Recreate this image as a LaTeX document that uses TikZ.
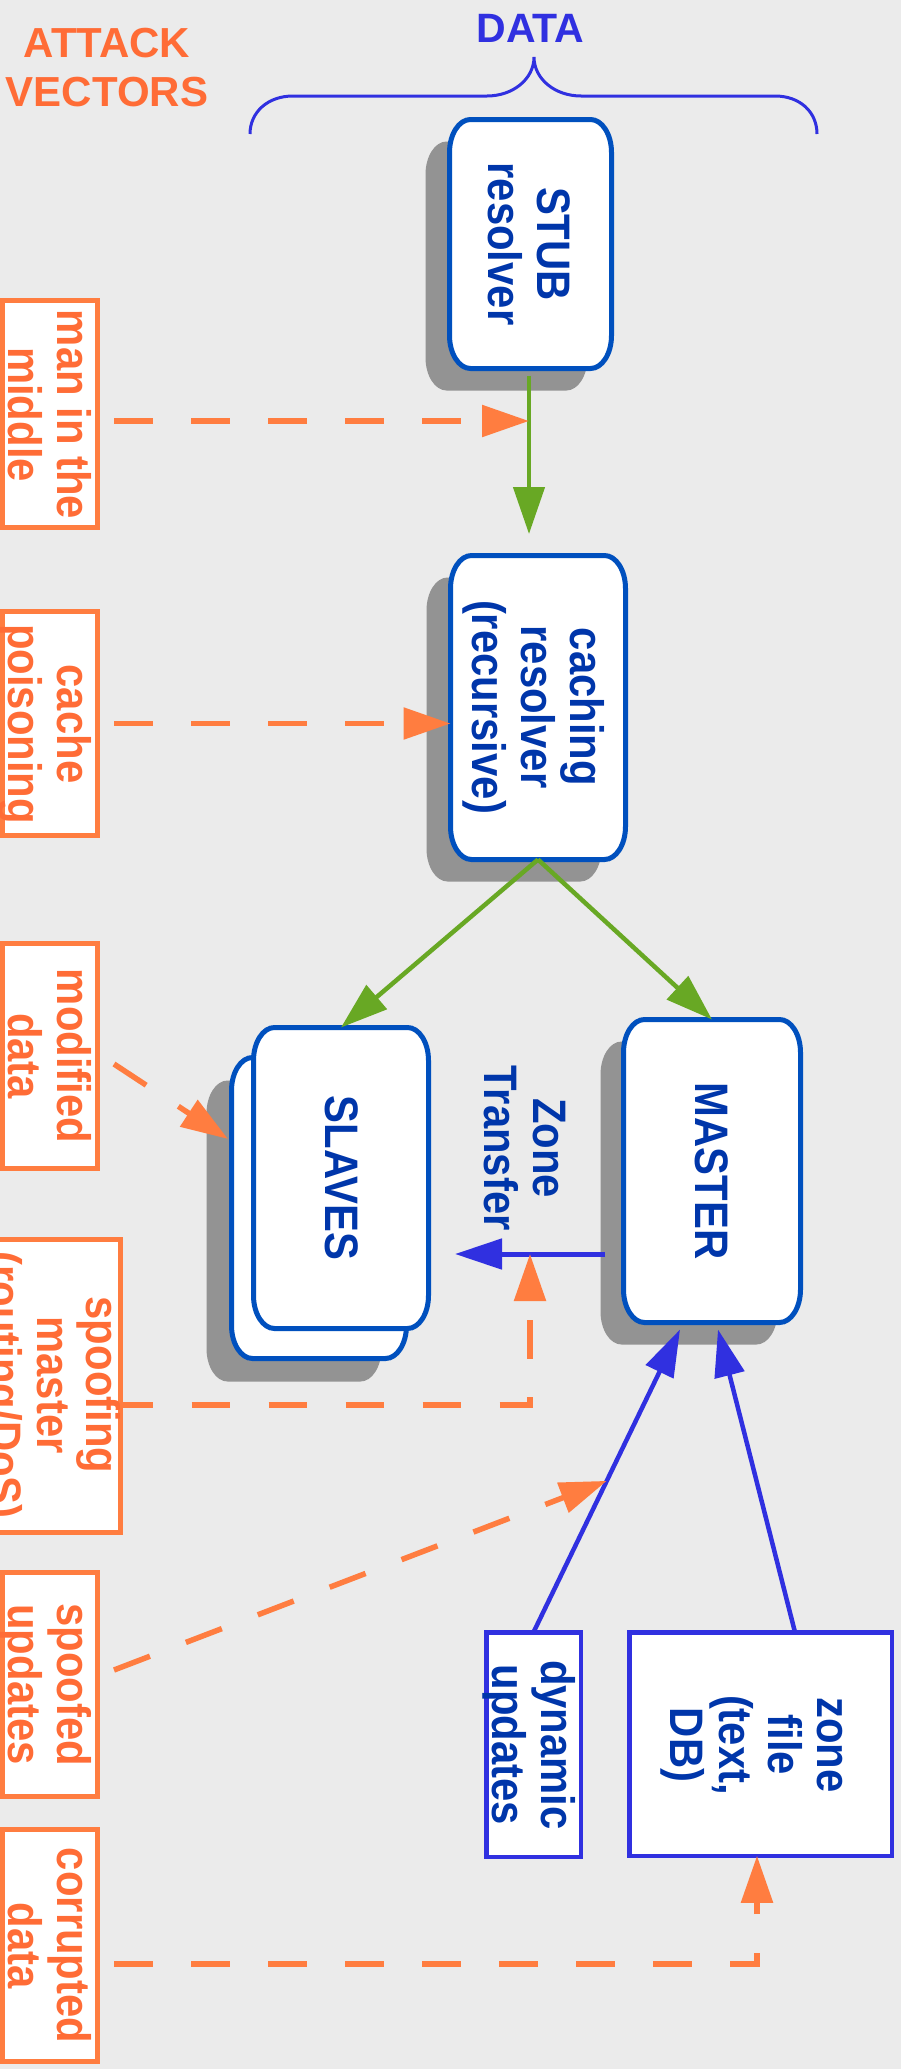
\documentclass[tikz,border=0pt]{standalone}
\usepackage{fontspec}
\setmainfont{Liberation Sans}
\newfontfamily\rotfont[FakeStretch=0.89]{Liberation Sans Bold}
\usetikzlibrary{arrows.meta,calc}

\definecolor{bg}{HTML}{EBEBEB}
\definecolor{shad}{HTML}{939393}
\definecolor{bbord}{HTML}{0050BE}
\definecolor{btext}{HTML}{0036AA}
\definecolor{barrow}{HTML}{3030E0}
\definecolor{orng}{HTML}{FF7D40}
\definecolor{otext}{HTML}{FF6C36}
\definecolor{grn}{HTML}{68A824}

\newcommand\rtab[1]{\begin{tabular}{@{}c@{}}#1\end{tabular}}

% elliptically rounded frame around a node: name, style, dx, dy
\newcommand\roundframe[4]{%
 \path[#2] let \p1=(#1.north west), \p2=(#1.south east) in
  ({\x1+21pt+#3},{\y1+#4}) -- ({\x2-21pt+#3},{\y1+#4})
  .. controls ({\x2-9.4pt+#3},{\y1+#4}) and ({\x2+#3},{\y1-14.8pt+#4}) .. ({\x2+#3},{\y1-33pt+#4})
  -- ({\x2+#3},{\y2+33pt+#4})
  .. controls ({\x2+#3},{\y2+14.8pt+#4}) and ({\x2-9.4pt+#3},{\y2+#4}) .. ({\x2-21pt+#3},{\y2+#4})
  -- ({\x1+21pt+#3},{\y2+#4})
  .. controls ({\x1+9.4pt+#3},{\y2+#4}) and ({\x1+#3},{\y2+14.8pt+#4}) .. ({\x1+#3},{\y2+33pt+#4})
  -- ({\x1+#3},{\y1-33pt+#4})
  .. controls ({\x1+#3},{\y1-14.8pt+#4}) and ({\x1+9.4pt+#3},{\y1+#4}) .. cycle;}

\tikzset{
  boxframe/.style={rectangle, inner sep=0pt, outer sep=0pt},
  obox/.style={boxframe, draw=orng, line width=5pt, fill=white},
  zbox/.style={boxframe, draw=barrow, line width=4.5pt, fill=white},
  rtxt/.style={rotate=-90, inner sep=0pt, font={\rotfont\fontsize{47}{49}\selectfont}},
  btxt/.style={rtxt, text=btext},
  otxt/.style={rtxt, text=otext},
  oarrow/.style={draw=orng, line width=5.5pt, dash pattern=on 38.5pt off 38.5pt,
     -{Triangle[length=47pt,width=31pt]}},
  garrow/.style={draw=grn, line width=4.5pt, -{Triangle[length=47pt,width=31pt]}},
  barr/.style={draw=barrow, line width=4.5pt, -{Triangle[length=47pt,width=30pt]}},
}

\begin{document}
\begin{tikzpicture}[x=1pt,y=-1pt]
\path[use as bounding box] (0,0) rectangle (901,2069);
\fill[bg] (0,0) rectangle (901,2069);
\clip (0,0) rectangle (901,2069);

% header
\node[font={\bfseries\fontsize{42}{49}\selectfont}, text=otext, inner sep=0pt] (av) at (107,71.7) {\rtab{ATTACK\\VECTORS}};
\node[font={\bfseries\fontsize{41}{47}\selectfont}, text=barrow, inner sep=0pt, anchor=base] (data) at (530.5,42) {DATA};
\draw[barrow, line width=3pt] (250,134) .. controls (250,112) and (268,96) .. (293,96) -- (487,96)
  .. controls (513,96) and (534,79) .. (534,57) .. controls (534,79) and (555,96) .. (581,96) -- (775,96)
  .. controls (800,96) and (817,112) .. (817,134);

% rounded server boxes (geometry holders)
\node[boxframe, minimum width=162pt, minimum height=249pt] (stub) at (530.5,244) {};
\node[boxframe, minimum width=175pt, minimum height=304pt] (cach) at (538,707.5) {};
\node[boxframe, minimum width=175pt, minimum height=301pt] (slb) at (319,1208) {};
\node[boxframe, minimum width=175pt, minimum height=301pt] (sl) at (341,1178) {};
\node[boxframe, minimum width=177pt, minimum height=303pt] (mas) at (712,1171) {};

% shadows
\roundframe{stub}{fill=shad}{-24pt}{-22pt}
\roundframe{cach}{fill=shad}{-24pt}{-22pt}
\roundframe{slb}{fill=shad}{-25pt}{-23pt}
\roundframe{mas}{fill=shad}{-23pt}{-22pt}

% frames
\roundframe{stub}{draw=bbord, line width=5pt, fill=white}{0pt}{0pt}
\roundframe{cach}{draw=bbord, line width=5pt, fill=white}{0pt}{0pt}
\roundframe{slb}{draw=bbord, line width=5pt, fill=white}{0pt}{0pt}
\roundframe{sl}{draw=bbord, line width=5pt, fill=white}{0pt}{0pt}
\roundframe{mas}{draw=bbord, line width=5pt, fill=white}{0pt}{0pt}

% attack vector boxes
\node[obox, minimum width=95pt, minimum height=227pt] (mitm) at (50,414) {};
\node[obox, minimum width=95pt, minimum height=224pt] (cachep) at (50,723.5) {};
\node[obox, minimum width=95pt, minimum height=225pt] (modd) at (50,1056) {};
\node[obox, minimum width=153pt, minimum height=293pt] (spoofm) at (44,1386) {};
\node[obox, minimum width=95pt, minimum height=224pt] (spoofu) at (50,1684.5) {};
\node[obox, minimum width=95pt, minimum height=232pt] (corr) at (50,1945.5) {};

% data source boxes
\node[zbox, minimum width=94.5pt, minimum height=224.5pt] (dyn) at (533.5,1744.5) {};
\node[zbox, minimum width=262.5pt, minimum height=223.5pt] (zf) at (760.5,1744) {};

% texts
\node[btxt] (stubt) at (522.3,244) {\rtab{STUB\\resolver}};
\node[btxt] (cacht) at (531.5,707) {\rtab{caching\\resolver\\(recursive)}};
\node[btxt] (slt) at (334.8,1178) {\rtab{SLAVES}};
\node[btxt] (mast) at (704.8,1171) {\rtab{MASTER}};
\node[btxt] (ztt) at (519,1148) {\rtab{Zone\\Transfer}};
\node[btxt] (dynt) at (527,1745) {\rtab{dynamic\\updates}};
\node[btxt] (zft) at (754,1745) {\rtab{zone\\file\\(text,\\DB)}};

\node[otxt] (mitmt) at (43,414.5) {\rtab{man in the\\middle}};
\node[otxt] (cachept) at (43,724) {\rtab{cache\\poisoning}};
\node[otxt] (moddt) at (43,1056) {\rtab{modified\\data}};
\node[otxt] (spoofmt) at (47,1385) {\rtab{spoofing\\master\\(routing/DoS)}};
\node[otxt] (spooft) at (43,1684.5) {\rtab{spoofed\\updates}};
\node[otxt] (corrt) at (43,1945.5) {\rtab{corrupted\\data}};

% connector helper points
\coordinate (g1) at (529,421);
\coordinate (gt) at (529,534);
\coordinate (ztip) at (530,1254);
\coordinate (mdT) at (228,1139);
\coordinate (spc) at (530,1405);
\coordinate (cc) at (757,1964);
\coordinate (mt1) at ([xshift=-32pt,yshift=-7pt]mas.south);
\coordinate (mt2) at ([xshift=6pt,yshift=-7pt]mas.south);
\coordinate (su) at ($(dyn.north)!0.5!(mt1)$);

% data flow
\draw[garrow, shorten <=7pt] (stub.south -| gt) -- (gt);
\draw[garrow] (cach.south) -- (sl.north);
\draw[garrow] (cach.south) -- (mas.north);
\draw[barr, line width=5pt, shorten <=18.5pt, shorten >=26.5pt] (mas.west |- ztip) -- (sl.east |- ztip);
\draw[barr] (dyn.north) -- (mt1);
\draw[barr] ([xshift=34.5pt]zf.north) -- (mt2);

% attack vectors
\draw[oarrow, shorten <=16.5pt] (mitm.east |- g1) -- (g1);
\draw[oarrow, shorten <=16.5pt] (cachep.east) -- (cach.west |- cachep.east);
\draw[oarrow] ([xshift=16.5pt,yshift=-8pt]modd.east) -- (mdT);
\draw[oarrow, dash phase=6pt] (spoofm.east |- spc) -- (spc) -- (ztip);
\draw[oarrow] ([xshift=16.5pt,yshift=14.5pt]spoofu.east) -- (su);
\draw[oarrow, shorten <=16.5pt] (corr.east |- cc) -- (cc) -- (cc |- zf.south);
\end{tikzpicture}
\end{document}
